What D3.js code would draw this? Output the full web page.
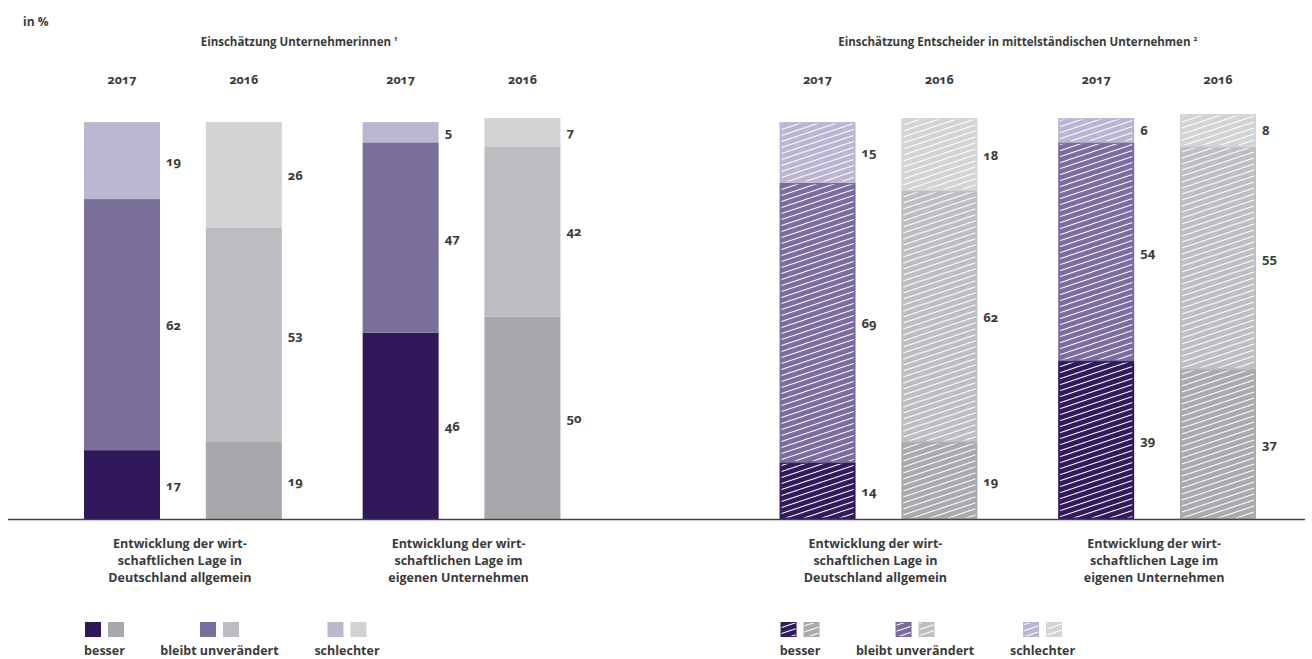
<!DOCTYPE html>
<html><head><meta charset="utf-8">
<script src="https://cdn.jsdelivr.net/npm/d3@7"></script>
<style>
html,body{margin:0;padding:0;background:#fff;}
svg text{font-family:"Open Sans","Noto Sans",sans-serif;font-weight:700;fill:#3a3a3a;font-feature-settings:"onum" 1;font-variant-numeric:oldstyle-nums;}
</style></head>
<body><svg id="c" width="1312" height="659"></svg>
<script>
// ---- data ----
const unitLabel = "in %";
const panels = ["Einschätzung Unternehmerinnen", "Einschätzung Entscheider in mittelständischen Unternehmen"];
const footnotes = ["1", "2"];
const categories = ["Deutschland", "Unternehmen"];
const categoryLines = [
  ["Entwicklung der wirt-", "schaftlichen Lage in", "Deutschland allgemein"],
  ["Entwicklung der wirt-", "schaftlichen Lage im", "eigenen Unternehmen"]
];
const years = ["2017", "2016"];
const seriesNames = ["besser", "bleibt unverändert", "schlechter"];
// bar order: panel 1 (cat1 2017, cat1 2016, cat2 2017, cat2 2016), panel 2 (same)
const barPanel    = [0, 0, 0, 0, 1, 1, 1, 1];
const barCategory = [0, 0, 1, 1, 0, 0, 1, 1];
const barYear     = ["2017", "2016", "2017", "2016", "2017", "2016", "2017", "2016"];
const besser      = [17, 19, 46, 50, 14, 19, 39, 37];
const unveraendert= [62, 53, 47, 42, 69, 62, 54, 55];
const schlechter  = [19, 26,  5,  7, 15, 18,  6,  8];

// ---- style ----
const purple = ["#31185b", "#7a6f9b", "#bcb7d1"];
const grey   = ["#a7a8ab", "#bcbdc0", "#d2d3d5"];
const purpleH= ["#30195e", "#7a6ca3", "#bbb4d3"];
const greyH  = ["#a9aaad", "#bebfc2", "#d3d4d6"];

const svg = d3.select("#c");
const defs = svg.append("defs");
const pat = defs.append("pattern").attr("id","hatch").attr("patternUnits","userSpaceOnUse")
  .attr("width",18).attr("height",6);
pat.append("path").attr("d","M-3,7 L21,-1 M-3,1 L3,-1 M15,7 L21,5")
  .attr("stroke","#fff").attr("stroke-width",1.1).attr("fill","none");

const baseY = 519;
const y = d3.scaleLinear().domain([0, 100]).range([baseY, 114]);
const xPanel = d3.scaleBand().domain(d3.range(panels.length)).range([84, 1256]).paddingInner(0.315);
const xCat = d3.scaleBand().domain(d3.range(categories.length)).range([0, xPanel.bandwidth()]).paddingInner(0.29);
const xYear = d3.scaleBand().domain(years).range([0, xCat.bandwidth()]).paddingInner(0.376);
const barX = i => xPanel(barPanel[i]) + xCat(barCategory[i]) + xYear(barYear[i]);
const bw = xYear.bandwidth();

const stackData = besser.map((b, i) => ({i, besser: b, bleibt: unveraendert[i], schlechter: schlechter[i]}));
const stack = d3.stack().keys(["besser","bleibt","schlechter"])(stackData);

// "in %"
svg.append("text").attr("x", 23).attr("y", 26).attr("font-size", 12).text(unitLabel);

// panel titles
panels.forEach((p, k) => {
  const cx = xPanel(k) + xPanel.bandwidth() / 2 - (k === 0 ? 23 : 0);
  const t = svg.append("text").attr("x", cx).attr("y", 46).attr("text-anchor","middle").attr("font-size", 11.5);
  t.append("tspan").text(p + " ");
  t.append("tspan").attr("font-size", 6.5).attr("dy", -5).text(footnotes[k]);
});

// year labels
barYear.forEach((yr, i) => {
  svg.append("text").attr("x", barX(i) + bw / 2).attr("y", 84).attr("text-anchor","middle")
    .attr("font-size", 12.5).text(yr);
});

// bars
stack.forEach((layer, s) => {
  layer.forEach((d, i) => {
    const hatched = barPanel[i] === 1;
    const isPurple = barYear[i] === years[0];
    const col = hatched ? (isPurple ? purpleH : greyH)[s] : (isPurple ? purple : grey)[s];
    const x0 = barX(i), y0 = y(d[1]), h = y(d[0]) - y(d[1]);
    svg.append("rect").attr("x", x0).attr("y", y0).attr("width", bw).attr("height", h).attr("fill", col);
    if (hatched) {
      svg.append("rect").attr("x", x0 + 2).attr("y", y0 + 1.5).attr("width", bw - 4).attr("height", Math.max(0, h - 3))
        .attr("fill", "url(#hatch)");
    }
    svg.append("text").attr("x", x0 + bw + 6).attr("y", (y(d[0]) + y(d[1])) / 2 + 5)
      .attr("font-size", 13).text(d[1] - d[0]);
  });
});

// baseline
svg.append("line").attr("x1", 8).attr("x2", 1305).attr("y1", baseY + 0.5).attr("y2", baseY + 0.5)
  .attr("stroke", "#444").attr("stroke-width", 1.3);

// category labels
panels.forEach((p, k) => {
  categories.forEach((c, j) => {
    const cx = xPanel(k) + xCat(j) + xCat.bandwidth() / 2 - 3;
    const t = svg.append("text").attr("text-anchor","middle").attr("font-size", 12.5);
    categoryLines[j].forEach((ln, l) => {
      t.append("tspan").attr("x", cx).attr("y", 548 + l * 16.8).text(ln);
    });
  });
});

// legend
const legendOffsets = [20.5, 135.5, 263];
panels.forEach((p, k) => {
  const hatched = k === 1;
  seriesNames.forEach((name, s) => {
    const cx = xPanel(k) + legendOffsets[s];
    const cols = hatched ? [purpleH[s], greyH[s]] : [purple[s], grey[s]];
    cols.forEach((c, m) => {
      const sx = cx - 19.5 + m * 23;
      svg.append("rect").attr("x", sx).attr("y", 622).attr("width", 16).attr("height", 15).attr("fill", c);
      if (hatched) {
        svg.append("rect").attr("x", sx + 1).attr("y", 623).attr("width", 14).attr("height", 13).attr("fill", "url(#hatch)");
      }
    });
    svg.append("text").attr("x", cx).attr("y", 655).attr("text-anchor","middle").attr("font-size", 12.5).text(name);
  });
});
</script></body></html>
